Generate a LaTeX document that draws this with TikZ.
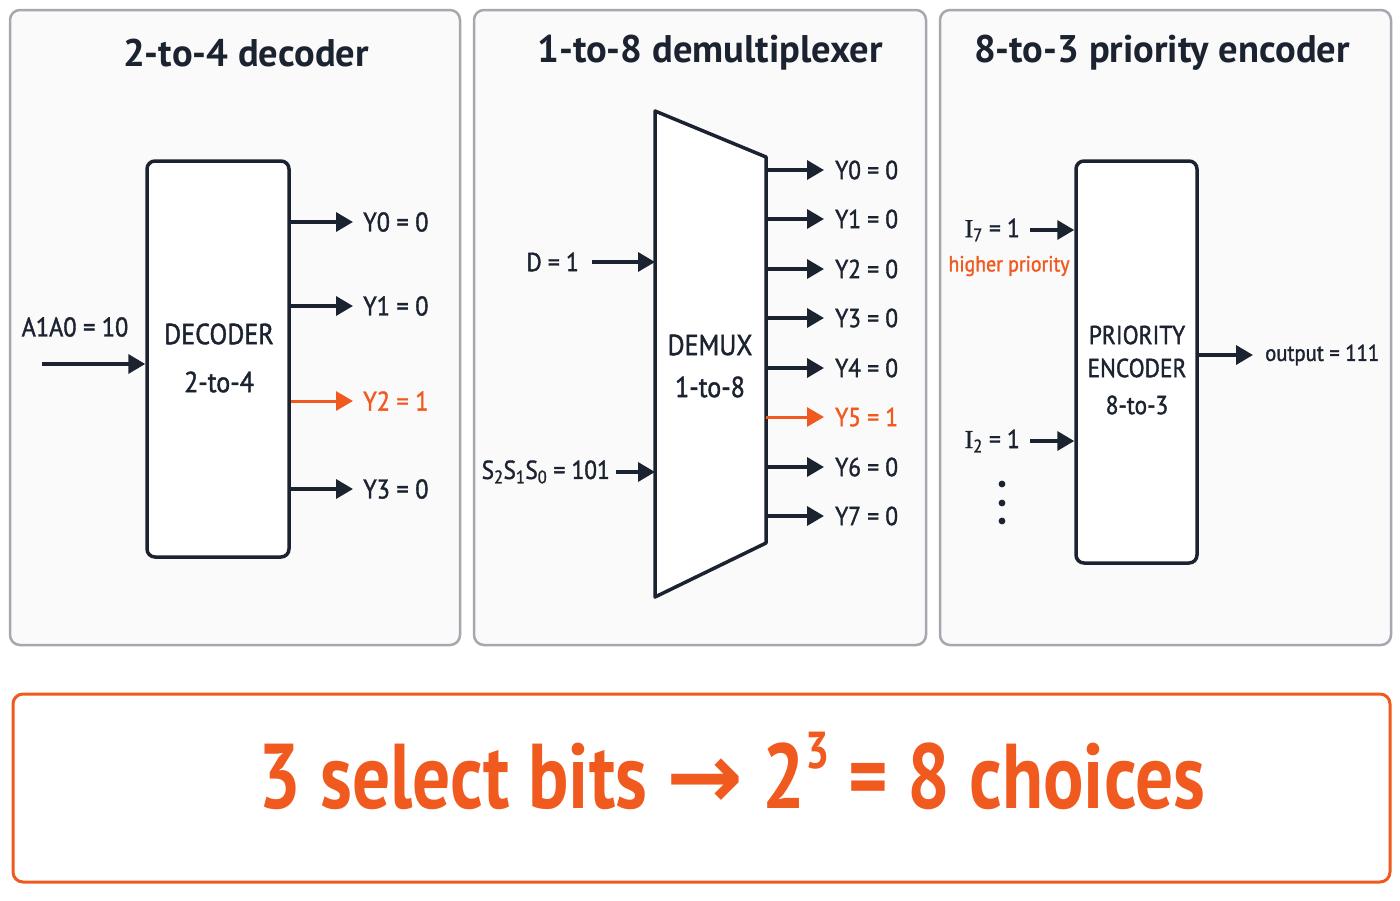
\documentclass[tikz,border=0pt]{standalone}
\usepackage{fontspec}
\setmainfont{PT Sans}
\newfontfamily\condfont{PT Sans}[FakeStretch=0.82]
\newfontfamily\labfont{PT Sans}[FakeStretch=0.9, FakeBold=1.4]
\newfontfamily\serifI{Liberation Serif}[FakeBold=1.0]
\newfontfamily\arrowfont{DejaVu Sans}
\usetikzlibrary{arrows.meta}
\definecolor{ink}{HTML}{1C2330}
\definecolor{accent}{HTML}{F05A1E}
\definecolor{frame}{HTML}{A5A9AF}
\definecolor{panelbg}{HTML}{FAFAFA}
\tikzset{
  panel/.style={draw=frame, line width=2.5pt, rounded corners=10pt, fill=panelbg},
  wire/.style={draw=ink, line width=3.5pt, -{Triangle[length=17pt,width=19pt]}},
  hot/.style={draw=accent, line width=3pt, -{Triangle[length=17pt,width=19pt]}},
  lbl/.style={text=ink, font=\labfont\fontsize{27}{29}\selectfont, inner sep=0pt},
  mlbl/.style={lbl, font=\labfont\fontsize{26}{28}\selectfont},
  smalllbl/.style={text=ink, font=\labfont\fontsize{23}{25}\selectfont, inner sep=0pt},
  title/.style={text=ink, font=\fontsize{38.5}{42}\selectfont\bfseries, inner sep=0pt},
  blocktext/.style={text=ink, font=\labfont\fontsize{29}{36}\selectfont, align=center, inner sep=0pt},
  blockbox/.style={draw=ink, line width=3.5pt, rounded corners=8pt, fill=white, inner sep=0pt},
}
\begin{document}
\begin{tikzpicture}[x=1pt,y=-1pt]
\fill[white] (0,0) rectangle (1400,900);
\useasboundingbox (0,0) rectangle (1400,900);

% panels
\node[panel, minimum width=450pt, minimum height=635pt] (p1) at (235,327.5) {};
\node[panel, minimum width=452pt, minimum height=635pt] (p2) at (700,327.5) {};
\node[panel, minimum width=451pt, minimum height=635pt] (p3) at (1165.5,327.5) {};

% titles
\node[title] (t1) at (246,53) {2-to-4 decoder};
\node[title] (t2) at (710,53) {1-to-8 demultiplexer};
\node[title] (t3) at (1162,53) {8-to-3 priority encoder};

% ---------- decoder ----------
\node[blockbox, minimum width=142pt, minimum height=396pt] (dec) at (218,359) {};
\node[blocktext] (dectxt) at (219,358) {DECODER\\[12pt]2-to-4};
\node[lbl] (ain) at (75,327) {A1A0 = 10};
\coordinate (ainS) at (42,364);
\draw[wire] (ainS) -- (dec.west |- ainS);

\node[lbl, anchor=west] (dy0) at (363,222) {Y0 = 0};
\node[lbl, anchor=west] (dy1) at (363,306) {Y1 = 0};
\node[lbl, text=accent, anchor=west] (dy2) at (363,401) {Y2 = 1};
\node[lbl, anchor=west] (dy3) at (363,489) {Y3 = 0};
\draw[wire] (dec.east |- dy0.west) -- ([xshift=-10pt]dy0.west);
\draw[wire] (dec.east |- dy1.west) -- ([xshift=-10pt]dy1.west);
\draw[hot]  (dec.east |- dy2.west) -- ([xshift=-10pt]dy2.west);
\draw[wire] (dec.east |- dy3.west) -- ([xshift=-10pt]dy3.west);

% ---------- demux ----------
\coordinate (dmTL) at (655,111);
\coordinate (dmTR) at (766,157);
\coordinate (dmBR) at (766,543);
\coordinate (dmBL) at (655,597);
\draw[ink, line width=3.5pt, line join=round, fill=white] (dmTL) -- (dmTR) -- (dmBR) -- (dmBL) -- cycle;
\node[blocktext] (dmtxt) at (710,366) {DEMUX\\[6pt]1-to-8};

\node[mlbl, anchor=east] (din) at (579,262) {D = 1};
\draw[wire] ([xshift=13pt]din.east) -- (dmTL |- din.east);
\node[mlbl, anchor=east] (sin) at (610,472) {S\textsubscript{2}S\textsubscript{1}S\textsubscript{0} = 101};
\draw[wire] ([xshift=6pt]sin.east) -- (dmTL |- sin.east);

\node[mlbl, anchor=west] (my0) at (835,170) {Y0 = 0};
\node[mlbl, anchor=west] (my1) at (835,219) {Y1 = 0};
\node[mlbl, anchor=west] (my2) at (835,269) {Y2 = 0};
\node[mlbl, anchor=west] (my3) at (835,318) {Y3 = 0};
\node[mlbl, anchor=west] (my4) at (835,368) {Y4 = 0};
\node[mlbl, text=accent, anchor=west] (my5) at (835,417) {Y5 = 1};
\node[mlbl, anchor=west] (my6) at (835,467) {Y6 = 0};
\node[mlbl, anchor=west] (my7) at (835,516) {Y7 = 0};
\foreach \n in {0,1,2,3,4,6,7}{
  \draw[wire] (dmTR |- my\n.west) -- ([xshift=-11pt]my\n.west);
}
\draw[hot] (dmTR |- my5.west) -- ([xshift=-11pt]my5.west);

% ---------- priority encoder ----------
\node[blockbox, minimum width=121pt, minimum height=402pt] (enc) at (1136.5,362) {};
\node[blocktext, font=\labfont\fontsize{26}{33}\selectfont] (enctxt) at (1137,370) {PRIORITY\\ENCODER\\[4pt]8-to-3};

\node[mlbl, anchor=east] (i7) at (1020,230) {{\serifI I}\textsubscript{7} = 1};
\draw[wire] ([xshift=10pt]i7.east) -- (enc.west |- i7.east);
\node[smalllbl, font=\labfont\fontsize{22}{24}\selectfont, text=accent] (hp) at (1009,266) {higher priority};
\node[mlbl, anchor=east] (i2) at (1020,441) {{\serifI I}\textsubscript{2} = 1};
\draw[wire] ([xshift=10pt]i2.east) -- (enc.west |- i2.east);
\fill[ink] (1002,484) circle (3.4pt) (1002,503) circle (3.4pt) (1002,521) circle (3.4pt);

\node[smalllbl, anchor=west] (out) at (1265,355) {output = 111};
\draw[wire] (enc.east |- out.west) -- ([xshift=-12pt]out.west);

% ---------- bottom banner ----------
\node[draw=accent, line width=3pt, rounded corners=10pt, fill=white,
      minimum width=1377pt, minimum height=188pt] (banner) at (701.5,788) {};
\node[text=accent, inner sep=0pt, anchor=base, font=\condfont\fontsize{92}{100}\selectfont\bfseries] (bantxt) at (732,808)
  {3 select bits {\arrowfont\bfseries →} 2\raisebox{40pt}{\fontsize{52}{52}\selectfont 3} = 8 choices};
\end{tikzpicture}
\end{document}
